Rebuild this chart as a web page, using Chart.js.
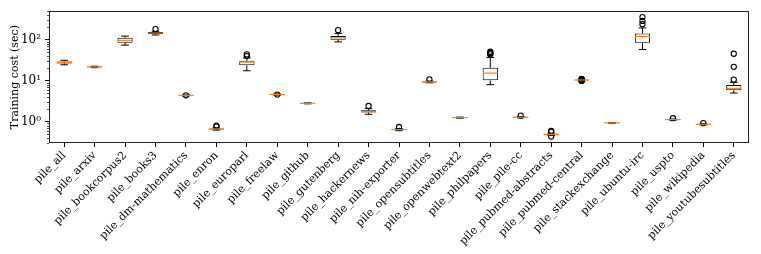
<!DOCTYPE html>
<html><head><meta charset="utf-8">
<script src="https://cdn.jsdelivr.net/npm/chart.js@4/dist/chart.umd.min.js"></script>
<style>html,body{margin:0;padding:0;background:#fff}#wrap{width:761px;height:254px}</style>
</head><body><div id="wrap"><canvas id="c" width="761" height="254"></canvas></div>
<script>
const categories = ["pile_all","pile_arxiv","pile_bookcorpus2","pile_books3","pile_dm-mathematics","pile_enron","pile_europarl","pile_freelaw","pile_github","pile_gutenberg","pile_hackernews","pile_nih-exporter","pile_opensubtitles","pile_openwebtext2","pile_philpapers","pile_pile-cc","pile_pubmed-abstracts","pile_pubmed-central","pile_stackexchange","pile_ubuntu-irc","pile_uspto","pile_wikipedia","pile_youtubesubtitles"];
const whiskerLow  = [24.5, 20.8, 74, 131, 4.25, 0.62, 17.5, 4.45, 2.72, 89, 1.51, 0.60, 8.9, 1.21, 8.0, 1.24, 0.46, 10.1, 0.91, 58, 1.08, 0.83, 5.0];
const q1          = [26.5, 21.3, 85, 138, 4.32, 0.645, 23.7, 4.55, 2.77, 100, 1.66, 0.625, 9.1, 1.235, 10.2, 1.26, 0.48, 10.3, 0.92, 84.5, 1.10, 0.85, 5.83];
const medians     = [27.8, 21.7, 97, 146, 4.38, 0.66, 28.5, 4.60, 2.80, 112, 1.75, 0.64, 9.3, 1.25, 15.4, 1.28, 0.49, 10.4, 0.93, 121, 1.12, 0.86, 6.5];
const q3          = [29.5, 22.1, 112, 155, 4.43, 0.675, 30.7, 4.65, 2.83, 123, 1.90, 0.655, 9.5, 1.265, 20.7, 1.30, 0.50, 10.5, 0.94, 143, 1.14, 0.87, 7.85];
const whiskerHigh = [31.5, 22.6, 123, 162, 4.50, 0.70, 36, 4.75, 2.88, 143, 2.07, 0.68, 9.8, 1.29, 37, 1.33, 0.52, 10.7, 0.95, 195, 1.16, 0.89, 9.1];
const outliers = [[], [], [], [182], [4.4], [0.76, 0.8], [40, 44], [4.58], [], [172], [2.41], [0.74], [10.8], [], [44, 46.5, 48, 51], [1.4], [0.43, 0.56, 0.59], [9.9, 10.0, 10.2, 10.6, 10.9, 11.0], [], [240, 290, 360], [1.21], [0.92], [10.6, 21.8, 45.6]];
const yMajorTicks = [1, 10, 100];
const yTickLabels = ["10\u2070", "10\u00B9", "10\u00B2"];

const FONT = "'DejaVu Serif', serif";
const boxData = categories.map((c, i) => [q1[i], q3[i]]);
const outlierData = [];
outliers.forEach((arr, i) => arr.forEach(v => outlierData.push({x: categories[i], y: v})));

const boxPlugin = {
  id: 'boxParts',
  afterDatasetsDraw(chart) {
    const ctx = chart.ctx, xs = chart.scales.x, ys = chart.scales.y;
    const step = xs.getPixelForValue(1) - xs.getPixelForValue(0);
    const boxW = step * 0.5, capW = boxW * 0.5;
    ctx.save();
    for (let i = 0; i < categories.length; i++) {
      const x = xs.getPixelForValue(i);
      const yq1 = ys.getPixelForValue(q1[i]), yq3 = ys.getPixelForValue(q3[i]);
      const ylo = ys.getPixelForValue(whiskerLow[i]), yhi = ys.getPixelForValue(whiskerHigh[i]);
      const ym = ys.getPixelForValue(medians[i]);
      ctx.strokeStyle = '#000'; ctx.lineWidth = 1;
      ctx.beginPath();
      ctx.moveTo(x, yq1); ctx.lineTo(x, ylo);
      ctx.moveTo(x, yq3); ctx.lineTo(x, yhi);
      ctx.moveTo(x - capW/2, ylo); ctx.lineTo(x + capW/2, ylo);
      ctx.moveTo(x - capW/2, yhi); ctx.lineTo(x + capW/2, yhi);
      ctx.stroke();
      ctx.strokeStyle = '#ff7f0e'; ctx.lineWidth = 1.2;
      ctx.beginPath();
      ctx.moveTo(x - boxW/2, ym); ctx.lineTo(x + boxW/2, ym);
      ctx.stroke();
    }
    ctx.restore();
  },
  afterDraw(chart) {
    const ctx = chart.ctx, ys = chart.scales.y, ca = chart.chartArea;
    ctx.save();
    ctx.strokeStyle = '#222'; ctx.lineWidth = 1;
    ctx.strokeRect(Math.round(ca.left) + 0.5, Math.round(ca.top) + 0.5, Math.round(ca.right - ca.left) - 1, Math.round(ca.bottom - ca.top) - 1);
    ctx.beginPath();
    for (let e = -1; e <= 2; e++) {
      for (let m = 2; m <= 9; m++) {
        const v = m * Math.pow(10, e);
        if (v < ys.min || v > ys.max) continue;
        const y = Math.round(ys.getPixelForValue(v)) + 0.5;
        ctx.moveTo(ca.left, y); ctx.lineTo(ca.left - 2, y);
      }
    }
    ctx.lineWidth = 0.8;
    ctx.stroke();
    ctx.restore();
  }
};

new Chart(document.getElementById('c'), {
  type: 'bar',
  data: {
    labels: categories,
    datasets: [
      {
        type: 'bar',
        data: boxData,
        backgroundColor: '#ffffff',
        borderColor: '#000000',
        borderWidth: 1,
        borderSkipped: false,
        barPercentage: 0.5,
        categoryPercentage: 1.0,
        order: 2
      },
      {
        type: 'line',
        data: outlierData,
        showLine: false,
        pointStyle: 'circle',
        pointRadius: 2.6,
        pointBorderWidth: 1.1,
        pointBorderColor: '#000',
        pointBackgroundColor: 'rgba(0,0,0,0)',
        order: 1
      }
    ]
  },
  options: {
    responsive: false,
    animation: false,
    events: [],
    layout: { padding: { top: 11, right: 12, left: 0, bottom: 0 } },
    plugins: { legend: { display: false }, tooltip: { enabled: false } },
    scales: {
      x: {
        type: 'category',
        offset: true,
        grid: { display: true, drawOnChartArea: false, offset: false, drawTicks: true, tickLength: 4, color: '#000' },
        border: { display: false },
        ticks: { color: '#000', font: { family: FONT, size: 11 }, minRotation: 45, maxRotation: 45, autoSkip: false, padding: 2 },
        afterFit(s) { s.height = 111; }
      },
      y: {
        type: 'logarithmic',
        min: 0.3, max: 500,
        afterBuildTicks(s) { s.ticks = yMajorTicks.map(v => ({ value: v })); },
        grid: { display: true, drawOnChartArea: false, drawTicks: true, tickLength: 4, color: '#000' },
        border: { display: false },
        ticks: {
          color: '#000', font: { family: FONT, size: 12 }, padding: 4,
          callback(v) { const k = yMajorTicks.indexOf(v); return k >= 0 ? yTickLabels[k] : ''; }
        },
        title: { display: true, text: 'Training cost (sec)', color: '#000', font: { family: FONT, size: 11 }, padding: { top: 9, bottom: 0 } },
        afterFit(s) { s.width = 49; }
      }
    }
  },
  plugins: [boxPlugin]
});
</script></body></html>
